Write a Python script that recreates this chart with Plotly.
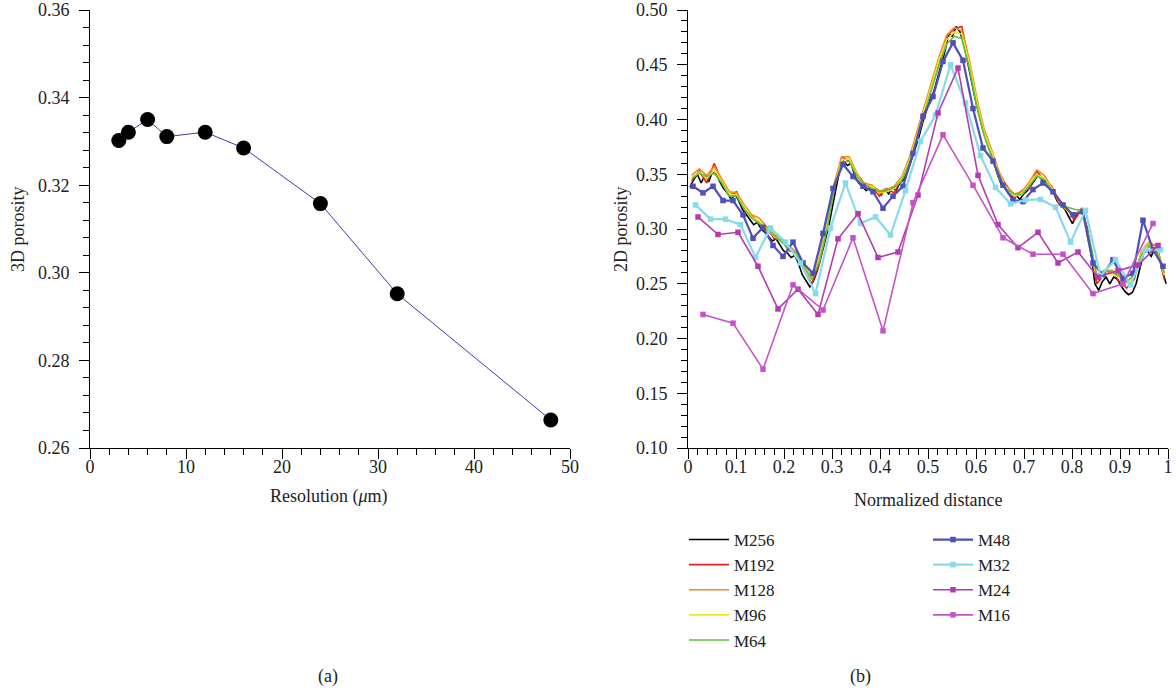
import plotly.graph_objects as go

# ---------------- Panel (a) data ----------------
resolution_um = [3, 4, 6, 8, 12, 16, 24, 32, 48]
porosity_3d = [0.3302, 0.3321, 0.3350, 0.3311, 0.3321, 0.3285, 0.3158, 0.2952, 0.2664]

# ---------------- Panel (b) data ----------------
m256 = [0.338, 0.345, 0.350, 0.342, 0.349, 0.343, 0.352, 0.350, 0.343, 0.337,
        0.333, 0.327, 0.332, 0.326, 0.318, 0.313, 0.308, 0.304, 0.306, 0.300,
        0.297, 0.293, 0.289, 0.291, 0.285, 0.280, 0.278, 0.274, 0.276, 0.268,
        0.258, 0.252, 0.247, 0.253, 0.262, 0.275, 0.288, 0.302, 0.320, 0.338,
        0.355, 0.362, 0.358, 0.360, 0.348, 0.342, 0.339, 0.335, 0.338, 0.333,
        0.336, 0.331, 0.336, 0.332, 0.338, 0.335, 0.342, 0.345, 0.352, 0.362,
        0.372, 0.383, 0.396, 0.406, 0.418, 0.425, 0.438, 0.450, 0.462, 0.478,
        0.476, 0.485, 0.480, 0.470, 0.455, 0.437, 0.420, 0.405, 0.392, 0.385,
        0.375, 0.362, 0.350, 0.341, 0.338, 0.332, 0.329, 0.331, 0.327, 0.332,
        0.335, 0.340, 0.345, 0.350, 0.344, 0.343, 0.336, 0.333, 0.325, 0.322,
        0.318, 0.312, 0.305, 0.312, 0.316, 0.312, 0.300, 0.278, 0.250, 0.244,
        0.252, 0.256, 0.250, 0.256, 0.254, 0.248, 0.243, 0.240, 0.242, 0.250,
        0.264, 0.278, 0.280, 0.275, 0.282, 0.276, 0.262, 0.250]
m192 = [0.344, 0.353, 0.342, 0.360, 0.343, 0.331, 0.334, 0.318, 0.312, 0.306,
        0.301, 0.291, 0.290, 0.280, 0.278, 0.262, 0.250, 0.268, 0.300, 0.338,
        0.366, 0.362, 0.350, 0.338, 0.340, 0.330, 0.337, 0.333, 0.347, 0.360,
        0.387, 0.408, 0.434, 0.453, 0.476, 0.483, 0.485, 0.450, 0.418, 0.386,
        0.371, 0.345, 0.340, 0.328, 0.335, 0.337, 0.353, 0.344, 0.339, 0.322,
        0.320, 0.308, 0.318, 0.285, 0.250, 0.258, 0.262, 0.252, 0.246, 0.254,
        0.280, 0.284, 0.286, 0.254]
m128 = [0.349, 0.355, 0.349, 0.357, 0.346, 0.334, 0.333, 0.322, 0.313, 0.310,
        0.302, 0.295, 0.291, 0.284, 0.279, 0.268, 0.256, 0.274, 0.304, 0.342,
        0.366, 0.366, 0.351, 0.342, 0.340, 0.335, 0.336, 0.339, 0.348, 0.365,
        0.388, 0.412, 0.435, 0.458, 0.477, 0.484, 0.481, 0.455, 0.420, 0.391,
        0.372, 0.352, 0.339, 0.332, 0.334, 0.343, 0.354, 0.349, 0.338, 0.327,
        0.318, 0.313, 0.319, 0.290, 0.256, 0.262, 0.262, 0.258, 0.251, 0.258,
        0.280, 0.288, 0.284, 0.260]
m96 = [0.347, 0.352, 0.346, 0.354, 0.344, 0.332, 0.331, 0.320, 0.311, 0.307,
       0.300, 0.293, 0.289, 0.282, 0.277, 0.266, 0.255, 0.272, 0.301, 0.339,
       0.363, 0.364, 0.349, 0.340, 0.339, 0.333, 0.334, 0.337, 0.346, 0.362,
       0.385, 0.409, 0.432, 0.455, 0.473, 0.480, 0.478, 0.452, 0.417, 0.388,
       0.370, 0.349, 0.337, 0.330, 0.332, 0.341, 0.350, 0.346, 0.337, 0.325,
       0.317, 0.314, 0.316, 0.288, 0.255, 0.260, 0.259, 0.256, 0.250, 0.257,
       0.279, 0.286, 0.281, 0.258]
m64 = [0.346, 0.351, 0.348, 0.351, 0.342, 0.330, 0.330, 0.318, 0.310, 0.305,
       0.299, 0.294, 0.288, 0.281, 0.278, 0.265, 0.254, 0.270, 0.298, 0.337,
       0.361, 0.362, 0.348, 0.341, 0.337, 0.334, 0.335, 0.338, 0.344, 0.360,
       0.381, 0.405, 0.428, 0.450, 0.469, 0.476, 0.474, 0.447, 0.412, 0.385,
       0.366, 0.346, 0.336, 0.332, 0.331, 0.339, 0.348, 0.345, 0.336, 0.326,
       0.320, 0.318, 0.317, 0.292, 0.258, 0.262, 0.261, 0.257, 0.252, 0.258,
       0.277, 0.285, 0.280, 0.260]
m48 = [0.339, 0.333, 0.339, 0.326, 0.326, 0.313, 0.2915, 0.3015, 0.285, 0.275,
       0.288, 0.269, 0.2595, 0.296, 0.337, 0.359, 0.348, 0.339, 0.334, 0.319,
       0.330, 0.339, 0.369, 0.403, 0.421, 0.453, 0.470, 0.454, 0.410, 0.374,
       0.362, 0.340, 0.3265, 0.325, 0.336, 0.342, 0.334, 0.322, 0.313, 0.316,
       0.269, 0.258, 0.272, 0.255, 0.2595, 0.308, 0.281, 0.266]
m32 = [0.322, 0.309, 0.309, 0.304, 0.274, 0.301, 0.288, 0.269, 0.241, 0.301,
       0.342, 0.305, 0.311, 0.2945, 0.335, 0.380, 0.404, 0.450, 0.415, 0.367,
       0.338, 0.323, 0.3265, 0.327, 0.320, 0.288, 0.317, 0.257, 0.272, 0.249,
       0.281, 0.281]
m24 = [0.311, 0.295, 0.297, 0.266, 0.227, 0.245, 0.222, 0.291, 0.314, 0.274,
       0.279, 0.331, 0.406, 0.447, 0.349, 0.304, 0.283, 0.297, 0.269, 0.279,
       0.256, 0.262, 0.267, 0.285]
m16 = [0.222, 0.214, 0.172, 0.249, 0.226, 0.292, 0.207, 0.324, 0.386, 0.340,
       0.292, 0.277, 0.277, 0.241, 0.250, 0.305]

series_names = ["M256", "M192", "M128", "M96", "M64", "M48", "M32", "M24", "M16"]
series_values = [m256, m192, m128, m96, m64, m48, m32, m24, m16]
series_colors = ["#000000", "#E8201C", "#F08A24", "#F6E326", "#5CC33A",
                 "#4F4FB8", "#86DAE9", "#B23AB2", "#C452C8"]

FONT = "Liberation Serif, Times New Roman, serif"
FS = 18
TXT = "#222"

W, H = 1176, 693


def px(xr):
    return xr / W


def py(yr):
    return 1 - yr / H


fig = go.Figure()

# Panel (a)
fig.add_trace(go.Scatter(
    x=resolution_um, y=porosity_3d, mode="lines+markers",
    line=dict(color="#3B3DB0", width=1),
    marker=dict(color="black", size=15),
    showlegend=False, xaxis="x", yaxis="y"))

# Panel (b)
for idx, (name, vals, col) in enumerate(zip(series_names, series_values, series_colors)):
    n = len(vals)
    xs = [(i + 0.5) / n for i in range(n)]
    with_markers = idx >= 5
    fig.add_trace(go.Scatter(
        x=xs, y=vals, name=name,
        mode="lines+markers" if with_markers else "lines",
        line=dict(color=col, width=2.2 if idx in (5, 6) else 1.6),
        marker=dict(symbol="square", size=5.5, color=col) if with_markers else None,
        xaxis="x2", yaxis="y2",
        legend="legend" if idx < 5 else "legend2"))

axis_common = dict(
    showline=True, linecolor="black", linewidth=1,
    ticks="outside", ticklen=10, tickwidth=1, tickcolor="black",
    showgrid=False, zeroline=False, automargin=False,
    tickfont=dict(family=FONT, size=FS, color=TXT),
)
minor_common = dict(ticks="outside", ticklen=6, tickwidth=1, tickcolor="black", showgrid=False)

ydom = [py(448), py(10)]
legend_common = dict(yanchor="top", xanchor="left", y=py(522),
                     font=dict(family=FONT, size=17, color=TXT),
                     bgcolor="rgba(0,0,0,0)", itemwidth=40, tracegroupgap=0)


def ann(text, xr, yr, angle=0):
    return dict(text=text, x=px(xr), y=py(yr), xref="paper", yref="paper",
                xanchor="center", yanchor="middle",
                textangle=angle, showarrow=False,
                font=dict(family=FONT, size=FS, color=TXT))


fig.update_layout(
    width=W, height=H,
    margin=dict(l=0, r=0, t=0, b=0, autoexpand=False),
    paper_bgcolor="white", plot_bgcolor="white",
    font=dict(family=FONT, size=FS, color=TXT),
    xaxis=dict(domain=[px(90), px(570)], range=[0, 50], tickmode="linear", tick0=0, dtick=10,
               minor=dict(dtick=2, **minor_common), anchor="y", ticklabelstandoff=-8,
               **axis_common),
    yaxis=dict(domain=ydom, range=[0.26, 0.36], tickmode="linear", tick0=0.26, dtick=0.02,
               tickformat=".2f", minor=dict(dtick=0.004, **minor_common), anchor="x",
               ticklabelstandoff=6, **axis_common),
    xaxis2=dict(domain=[px(688), px(1168)], range=[0, 1], tickmode="linear", tick0=0,
                dtick=0.1, minor=dict(dtick=0.02, **minor_common), anchor="y2",
                ticklabelstandoff=-8, **axis_common),
    yaxis2=dict(domain=ydom, range=[0.10, 0.50], tickmode="linear", tick0=0.10, dtick=0.05,
                tickformat=".2f", minor=dict(dtick=0.01, **minor_common), anchor="x2",
                ticklabelstandoff=6, **axis_common),
    legend=dict(x=px(684), **legend_common),
    legend2=dict(x=px(928), **legend_common),
    annotations=[
        ann("3D porosity", 18, 229, -90),
        ann("Resolution (<i>μ</i>m)", 329, 497),
        ann("2D porosity", 621, 229, -90),
        ann("Normalized distance", 928, 500),
        ann("(a)", 328, 676),
        ann("(b)", 860, 676),
    ],
)

fig.write_html("out.html",
               config={"displayModeBar": False},
               post_script="document.body.style.margin='0';document.body.style.overflow='hidden';")
